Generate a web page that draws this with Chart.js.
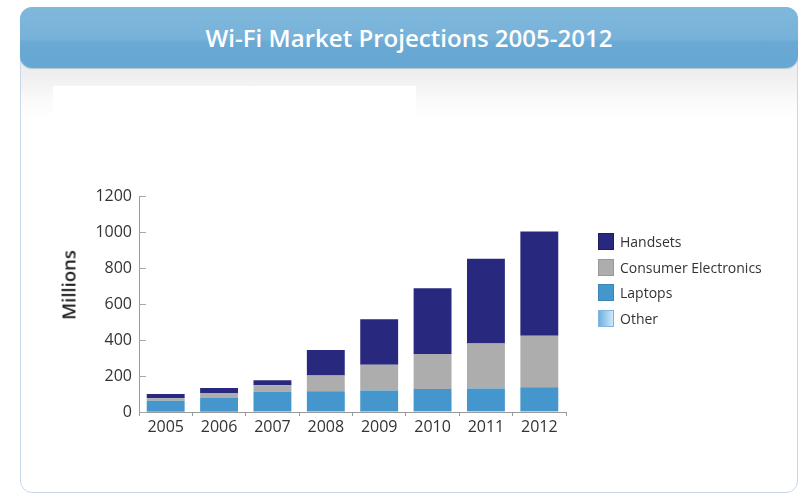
<!DOCTYPE html>
<html>
<head>
<meta charset="utf-8">
<script src="https://cdn.jsdelivr.net/npm/chart.js@4.4.1/dist/chart.umd.min.js"></script>
<style>
  html, body { margin: 0; padding: 0; background: #ffffff; }
  body { width: 800px; height: 496px; position: relative; overflow: hidden; font-family: 'Open Sans', sans-serif; }
  .card { position: absolute; left: 20px; top: 7px; width: 778px; height: 486px; box-sizing: border-box;
    border: 1px solid #c9d7ea; border-radius: 12px;
    background: linear-gradient(to bottom, #ededed 0px, #ededed 62px, #fbfbfb 95px, #ffffff 110px); }
  .header { position: absolute; left: 20px; top: 7px; width: 778px; height: 61px; border-radius: 12px;
    background: linear-gradient(to bottom, #80b8dc 0px, #78b2d9 32px, #69a9d4 35px, #66a7d3 61px);
    box-shadow: 0 1px 1px rgba(90,130,170,0.35); }
  .title { position: absolute; left: 0; top: 0; width: 100%; height: 61px; line-height: 61px; text-align: center;
    color: #ffffff; font-family: 'Open Sans', sans-serif; font-weight: 600; font-size: 24px; white-space: nowrap; }
  .title span { display: inline-block; transform-origin: center center; }
  .whitebox { position: absolute; left: 53px; top: 86px; width: 363px; height: 30px; background: #ffffff; }
  canvas#c { position: absolute; left: 0; top: 0; }
  .ytitle { position: absolute; left: 68px; top: 285px; transform: translate(-50%, -50%) rotate(-90deg);
    font-family: 'Open Sans', sans-serif; font-weight: 600; font-size: 18.5px; color: #222; white-space: nowrap; }
  .legend { position: absolute; left: 598px; top: 233px; font-family: 'Open Sans', sans-serif; font-size: 14px; color: #333; }
  .legend .row { position: relative; height: 25.7px; }
  .legend .sw { position: absolute; left: 0; top: 0; width: 16px; height: 17px; box-sizing: border-box; border: 1px solid; }
  .legend .lb { position: absolute; left: 22px; top: 0; line-height: 17px; white-space: nowrap; }
</style>
</head>
<body>
<div class="card"></div>
<div class="header"><div class="title"><span id="ttl">Wi-Fi Market Projections 2005-2012</span></div></div>
<div class="whitebox"></div>
<canvas id="c" width="800" height="496"></canvas>
<div class="ytitle">Millions</div>
<div class="legend" id="legend"></div>
<script>
// ---- data ----
const years = ['2005', '2006', '2007', '2008', '2009', '2010', '2011', '2012'];
const other = [2, 2, 3, 3, 3, 4, 4, 4];
const laptops = [61, 79, 108, 112, 117, 124, 127, 133];
const consumerElectronics = [13, 25, 37, 88, 143, 194, 250, 287];
const handsets = [24, 27, 29, 141, 252, 365, 471, 579];
const yTicks = [0, 200, 400, 600, 800, 1000, 1200];

// fit title width to reference
(function () {
  const t = document.getElementById('ttl');
  const w = t.getBoundingClientRect().width;
  if (w > 0) t.style.transform = 'scaleX(' + (407 / w) + ')';
})();

const datasets = [
  { label: 'Other', data: other, backgroundColor: '#a3d0f0', swBorder: '#7fb5de', swFill: 'linear-gradient(to right,#6fb0e0,#cfe8fa)' },
  { label: 'Laptops', data: laptops, backgroundColor: '#4596cc', swBorder: '#3a85b8', swFill: '#4596cc' },
  { label: 'Consumer Electronics', data: consumerElectronics, backgroundColor: '#adadad', swBorder: '#999999', swFill: '#adadad' },
  { label: 'Handsets', data: handsets, backgroundColor: '#29287f', swBorder: '#1e1d63', swFill: '#29287f' }
];

const innerTicks = {
  id: 'innerTicks',
  afterDraw(chart) {
    const ys = chart.scales.y;
    const ctx = chart.ctx;
    const left = chart.chartArea.left;
    ctx.save();
    ctx.strokeStyle = '#a8a8a8';
    ctx.lineWidth = 1;
    yTicks.forEach(v => {
      const py = Math.round(ys.getPixelForValue(v)) + 0.5;
      ctx.beginPath();
      ctx.moveTo(left, py);
      ctx.lineTo(left + 7, py);
      ctx.stroke();
    });
    ctx.restore();
  }
};

const chart = new Chart(document.getElementById('c'), {
  type: 'bar',
  data: {
    labels: years,
    datasets: datasets.map(d => ({
      label: d.label, data: d.data, backgroundColor: d.backgroundColor,
      borderWidth: 0, categoryPercentage: 1.0, barPercentage: 0.71
    }))
  },
  options: {
    responsive: false,
    animation: false,
    layout: { padding: { left: 0, top: 196, right: 234, bottom: 0 } },
    plugins: { legend: { display: false }, tooltip: { enabled: false }, title: { display: false } },
    scales: {
      x: {
        stacked: true,
        grid: { display: true, drawOnChartArea: false, drawTicks: true, tickLength: 4, offset: true, color: '#9a9a9a' },
        border: { display: true, color: '#9a9a9a', width: 1 },
        ticks: { color: '#333333', font: { family: "'Open Sans', sans-serif", size: 16 }, padding: 2, maxRotation: 0 },
        afterFit(s) { s.height = 84; }
      },
      y: {
        stacked: true,
        min: 0, max: 1200,
        afterBuildTicks(s) { s.ticks = yTicks.map(v => ({ value: v })); },
        grid: { display: false, drawTicks: false },
        border: { display: true, color: '#9a9a9a', width: 1 },
        ticks: { color: '#333333', font: { family: "'Open Sans', sans-serif", size: 16 }, padding: 7,
          callback: v => String(v) },
        afterFit(s) { s.width = 139; }
      }
    }
  },
  plugins: [innerTicks]
});

// HTML legend built from datasets (top series first)
const lg = document.getElementById('legend');
datasets.slice().reverse().forEach(d => {
  const row = document.createElement('div');
  row.className = 'row';
  const sw = document.createElement('div');
  sw.className = 'sw';
  sw.style.borderColor = d.swBorder;
  sw.style.background = d.swFill;
  const lb = document.createElement('div');
  lb.className = 'lb';
  lb.textContent = d.label;
  row.appendChild(sw);
  row.appendChild(lb);
  lg.appendChild(row);
});
</script>
</body>
</html>
